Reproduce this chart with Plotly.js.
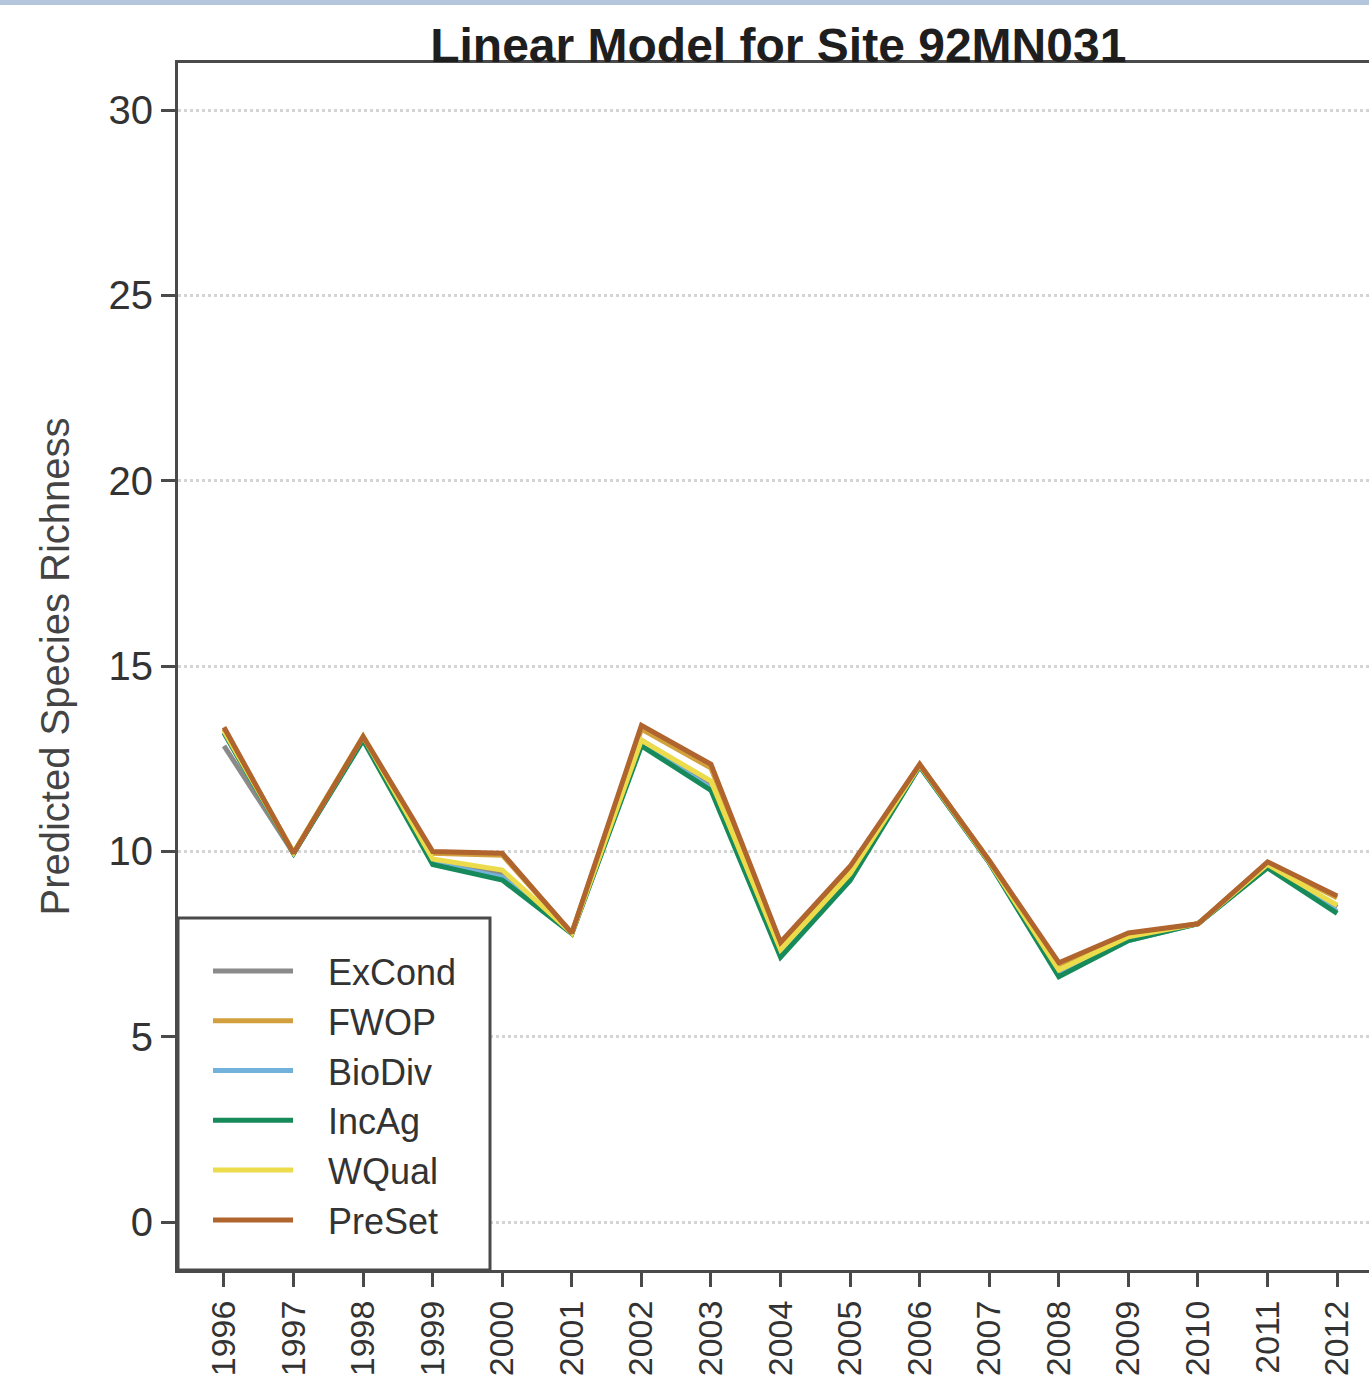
<!DOCTYPE html>
<html>
<head>
<meta charset="utf-8">
<script src="https://cdn.plot.ly/plotly-3.0.1.min.js"></script>
<style>
  html, body { margin: 0; padding: 0; background: #ffffff; overflow: hidden; }
  #chart { width: 1369px; height: 1383px; }
</style>
</head>
<body>
<div id="chart"></div>
<script>
// Survey years on the x axis
const years = [1996, 1997, 1998, 1999, 2000, 2001, 2002, 2003, 2004,
               2005, 2006, 2007, 2008, 2009, 2010, 2011, 2012];

// Predicted species richness per scenario
const exCond = [12.85, 9.95, 13.05, 9.75, 9.40, 7.80, 13.00, 11.85, 7.30, 9.35, 12.30, 9.70, 6.75, 7.65, 8.05, 9.62, 8.50];
const fwop   = [13.30, 9.95, 13.10, 9.95, 9.90, 7.80, 13.30, 12.25, 7.50, 9.55, 12.35, 9.75, 6.95, 7.75, 8.05, 9.70, 8.75];
const bioDiv = [13.20, 9.95, 13.05, 9.70, 9.30, 7.80, 12.90, 11.70, 7.20, 9.25, 12.30, 9.70, 6.65, 7.60, 8.05, 9.58, 8.38];
const incAg  = [13.20, 9.95, 13.00, 9.65, 9.23, 7.78, 12.85, 11.65, 7.15, 9.22, 12.30, 9.70, 6.62, 7.60, 8.05, 9.56, 8.33];
const wQual  = [13.25, 9.97, 13.10, 9.80, 9.50, 7.80, 13.00, 11.90, 7.35, 9.40, 12.33, 9.72, 6.80, 7.70, 8.05, 9.65, 8.55];
const preSet = [13.35, 9.95, 13.10, 10.00, 9.95, 7.80, 13.40, 12.35, 7.55, 9.60, 12.35, 9.75, 7.00, 7.80, 8.05, 9.72, 8.80];

const seriesNames  = ["ExCond", "FWOP", "BioDiv", "IncAg", "WQual", "PreSet"];
const seriesValues = [exCond, fwop, bioDiv, incAg, wQual, preSet];
const seriesColors = ["#8a8a8a", "#d2a03c", "#72b2da", "#178a5c", "#ecdc4c", "#b0642e"];

const yTicks = [0, 5, 10, 15, 20, 25, 30];

// Legend labels sit a little further from their line samples
const legendPad = "\u00a0\u00a0\u00a0";

const traces = seriesNames.map((name, i) => ({
  type: "scatter",
  mode: "lines",
  name: legendPad + name,
  x: years,
  y: seriesValues[i],
  line: { color: seriesColors[i], width: 5 },
  hoverinfo: "x+y"
}));

const axisColor = "#4a4a4a";
const fontFamily = "Liberation Sans, Arial, sans-serif";

const layout = {
  width: 1369,
  height: 1383,
  margin: { l: 178, r: 0, t: 63, b: 113, pad: 0 },
  paper_bgcolor: "#ffffff",
  plot_bgcolor: "#ffffff",
  font: { family: fontFamily, color: "#333333" },
  showlegend: true,
  title: {
    text: "<b>Linear Model for Site 92MN031</b>",
    font: { family: fontFamily, size: 48, color: "#1e1e1e" },
    xref: "paper", x: 0.504, xanchor: "center",
    yref: "container", y: 1 - 45 / 1383, yanchor: "middle"
  },
  xaxis: {
    range: [1995.339, 2012.458],
    tickmode: "array",
    tickvals: years,
    ticktext: years.map(String),
    tickangle: -90,
    tickfont: { family: fontFamily, size: 34, color: "#333333" },
    ticks: "outside",
    ticklen: 14,
    tickwidth: 3,
    tickcolor: axisColor,
    showline: true,
    linecolor: axisColor,
    linewidth: 3,
    mirror: true,
    showgrid: false,
    zeroline: false
  },
  yaxis: {
    range: [-1.29, 31.27],
    tickmode: "array",
    tickvals: yTicks,
    ticktext: yTicks.map(String),
    tickfont: { family: fontFamily, size: 40, color: "#333333" },
    ticks: "outside",
    ticklen: 14,
    tickwidth: 3,
    tickcolor: axisColor,
    showline: true,
    linecolor: axisColor,
    linewidth: 3,
    mirror: false,
    showgrid: true,
    gridcolor: "#d4d4d4",
    gridwidth: 3,
    griddash: "dot",
    zeroline: false,
    title: {
      text: "Predicted Species Richness",
      font: { family: fontFamily, size: 40, color: "#444444" },
      standoff: 27
    }
  },
  legend: {
    x: 30 / 1191, y: (1270 - 941) / 1207,
    xanchor: "left", yanchor: "top",
    xref: "paper", yref: "paper",
    bgcolor: "rgba(0,0,0,0)",
    borderwidth: 0,
    itemwidth: 80,
    font: { family: fontFamily, size: 36, color: "#333333" },
    tracegroupgap: 0
  },
  shapes: [
    // legend frame
    {
      type: "rect", xref: "paper", yref: "paper",
      x0: 0, x1: (490 - 178) / 1191, y0: 0, y1: (1270 - 918) / 1207,
      fillcolor: "#ffffff", line: { color: axisColor, width: 3 }, layer: "above"
    },
    // window frame strip along the top edge
    {
      type: "rect", xref: "paper", yref: "paper",
      x0: -0.2, x1: 1.2, y0: 1.048, y1: 1.06,
      fillcolor: "#b4c6dc", line: { width: 0 }, layer: "above"
    }
  ]
};

Plotly.newPlot("chart", traces, layout, { displayModeBar: false, staticPlot: true });
</script>
</body>
</html>
